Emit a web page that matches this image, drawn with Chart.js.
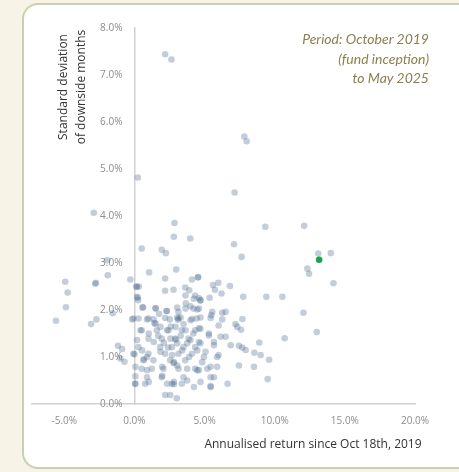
<!DOCTYPE html>
<html lang="en">

<head>
    <meta charset="UTF-8">
    <title>Downside deviation vs. annualised return</title>
    <script src="https://cdn.jsdelivr.net/npm/chart.js"></script>
    <style>
        body {
            margin: 0;
            width: 459px;
            height: 472px;
            overflow: hidden;
            position: relative;
            background: #f7f3e6;
        }

        .card {
            position: absolute;
            left: 22px;
            top: 3px;
            width: 480px;
            height: 462px;
            background: #ffffff;
            border: 2.5px solid #c8d1ad;
            border-radius: 16px;
        }

        #scatterChart {
            position: absolute;
            left: 0;
            top: 0;
        }

        .period {
            position: absolute;
            right: 30px;
            top: 29px;
            text-align: right;
            font-family: Lato, sans-serif;
            font-style: italic;
            font-size: 14px;
            line-height: 19.5px;
            color: #8b7f4f;
        }
    </style>
</head>

<body>
    <div class="card"></div>
    <canvas id="scatterChart" width="459" height="472"></canvas>
    <div class="period">Period: October 2019<br>(fund inception)<br>to May 2025</div>

    <script>
        // [annualised return %, std dev of downside months %]
        const fundPoint = [[13.17, 3.07]];

        const peerPoints = [
            // upper / sparse
            [2.19, 7.44], [2.64, 7.33], [7.83, 5.69], [8.0, 5.59], [0.24, 4.82], [7.14, 4.50],
            [2.86, 3.85], [9.33, 3.77], [2.81, 3.56], [3.98, 3.52], [12.1, 3.79], [-2.9, 4.07],
            // negative returns
            [-1.95, 3.06], [-1.9, 2.74], [-4.93, 2.60], [-2.79, 2.56], [-2.75, 2.58], [-4.76, 2.37],
            [-0.29, 2.65], [-4.88, 2.06], [-1.55, 1.93], [-2.71, 1.80], [-3.09, 1.70], [-5.59, 1.77],
            [-0.16, 1.80], [-1.17, 1.24], [-0.88, 1.17], [-1.0, 0.97], [-0.71, 0.90], [0.0, 1.06],
            [0.07, 0.59], [0.07, 0.43],
            // 0-5% upper part
            [0.52, 3.31], [1.95, 3.28], [2.24, 3.21], [1.05, 2.80], [2.98, 2.86], [2.19, 2.67],
            [4.1, 2.65], [4.52, 2.69], [0.17, 2.49], [2.19, 2.41], [2.79, 2.43], [3.62, 2.48],
            [3.91, 2.42], [0.24, 2.26], [4.33, 2.31], [3.66, 2.14], [0.57, 2.05], [1.52, 2.04],
            [2.31, 1.98], [1.76, 1.92], [3.14, 1.96], [4.21, 2.03], [-0.07, 1.82], [1.0, 1.82],
            [3.14, 1.82], [4.43, 1.82],
            // 0-5% dense part
            [0.29, 1.82], [1.36, 1.80], [2.19, 1.83], [3.1, 1.79], [4.1, 1.81],
            [0.52, 1.57], [1.6, 1.57], [2.43, 1.57], [3.38, 1.57], [4.33, 1.57],
            [1.0, 1.39], [1.95, 1.39], [2.91, 1.39], [2.95, 1.37], [3.86, 1.39],
            [0.29, 1.21], [1.83, 1.21], [2.67, 1.21], [3.5, 1.21], [4.33, 1.21],
            [-0.07, 1.07], [1.0, 1.07], [2.19, 1.07], [3.14, 1.07], [4.1, 1.07],
            [0.64, 0.93], [0.68, 0.95], [1.36, 0.93], [2.55, 0.93], [3.62, 0.93],
            [0.52, 0.75], [1.24, 0.75], [2.07, 0.75], [3.14, 0.75], [4.33, 0.75],
            [1.95, 0.57], [1.98, 0.60], [3.5, 0.57],
            [0.05, 0.43], [0.76, 0.43], [2.67, 0.43], [3.38, 0.43],
            [2.19, 0.19], [2.55, 0.19], [3.02, 0.12],
            [0.14, 2.5], [0.31, 2.5], [0.19, 2.28], [0.26, 2.21], [3.64, 2.31], [4.24, 2.24], [4.71, 2.21],
            [0.62, 2.06], [1.5, 2.03], [2.29, 1.98], [3.05, 2.05], [3.64, 2.03], [4.0, 2.08], [4.48, 2.01],
            [0.9, 1.8], [1.43, 1.72], [1.86, 1.64], [2.52, 1.8], [3.29, 1.84], [4.0, 1.78], [4.71, 1.84],
            [5.48, 1.89], [6.26, 1.94],
            [0.43, 1.57], [1.02, 1.5], [2.33, 1.57], [2.93, 1.64], [3.64, 1.57], [4.71, 1.6], [5.31, 1.5],
            [6.14, 1.43],
            [0.19, 1.36], [1.38, 1.32], [2.57, 1.39], [3.05, 1.29], [4.0, 1.36], [4.71, 1.29], [5.67, 1.32],
            [0.55, 1.14], [0.9, 1.0], [1.86, 1.11], [2.69, 1.04], [2.81, 0.89], [3.4, 1.14], [4.48, 1.14],
            [4.95, 1.0], [5.9, 1.0],
            [0.07, 0.79], [0.9, 0.72], [1.98, 0.79], [3.05, 0.82], [3.76, 0.75], [4.48, 0.72], [5.19, 0.75],
            [5.9, 0.79],
            [0.9, 0.57], [2.81, 0.47], [3.76, 0.5], [4.71, 0.47], [5.67, 0.57],
            [1.02, 0.47], [2.33, 0.43], [2.81, 0.42], [4.24, 0.36], [5.43, 0.38],
            // darker spots in the core
            [1.5, 1.71], [3.05, 1.84], [2.8, 0.87], [3.76, 1.29], [3.3, 1.45], [2.4, 1.2],
            [3.9, 1.0], [1.7, 1.45], [2.1, 1.3], [3.5, 1.7], [2.6, 1.65], [4.2, 1.5],
            // 5-10%
            [7.1, 3.4], [7.64, 3.13], [4.55, 2.7], [5.98, 2.58], [5.6, 2.53], [5.74, 2.43], [6.81, 2.51],
            [6.21, 2.35], [7.76, 2.28], [9.4, 2.28], [5.36, 2.26], [4.6, 2.25], [4.7, 2.2], [4.6, 2.03],
            [5.55, 1.96], [6.5, 1.96], [5.43, 1.83], [6.26, 1.8], [7.7, 1.81],
            [4.6, 1.61], [6.0, 1.67], [7.2, 1.70], [7.33, 1.64], [7.6, 1.58], [5.31, 1.46], [6.5, 1.43],
            [4.6, 1.32], [5.67, 1.25], [6.86, 1.25], [7.45, 1.24], [7.69, 1.2], [7.93, 1.15], [8.9, 1.31],
            [8.55, 1.09], [5.07, 1.11], [6.0, 1.04], [4.83, 0.89], [5.43, 0.79], [7.45, 0.82], [8.52, 0.79],
            [4.6, 0.72], [5.43, 0.57], [5.43, 0.36], [6.64, 0.43], [9.5, 0.53], [9.0, 1.04], [9.6, 0.94],
            // 10%+
            [13.1, 3.2], [14.0, 3.21], [12.33, 2.88], [12.45, 2.77], [14.19, 2.57], [10.55, 2.28],
            [12.05, 1.94], [13.0, 1.53], [10.71, 1.40]
        ];

        const xTicks = [-5, 0, 5, 10, 15, 20];
        const yTicks = [0, 1, 2, 3, 4, 5, 6, 7, 8];
        const xTitle = 'Annualised return since Oct 18th, 2019';
        const yTitle = ['Standard deviation', 'of downside months'];

        const tickFont = { family: 'Open Sans', size: 10 };
        const tickColor = '#8c8c8c';
        const axisColor = '#d2d2d2';

        // axes take no room in the layout; afterwards put the y axis on x = 0
        // and give both boxes some size again so their labels are not clipped
        const axesPlacement = {
            id: 'axesPlacement',
            afterLayout(chart) {
                const xs = chart.scales.x;
                const ys = chart.scales.y;
                const x0 = xs.getPixelForValue(0);
                ys.left = 0;
                ys.right = x0;
                xs.bottom = xs.top + 40;
            }
        };

        const axisTitles = {
            id: 'axisTitles',
            afterDraw(chart) {
                const c = chart.ctx;
                c.save();
                c.fillStyle = '#333333';
                c.textAlign = 'center';
                c.textBaseline = 'middle';
                c.font = '12px "Open Sans"';
                c.fillText(xTitle, 313, 445);
                c.translate(73, 87);
                c.rotate(-Math.PI / 2);
                c.fillText(yTitle[0], 0, -9);
                c.fillText(yTitle[1], 0, 9);
                c.restore();
            }
        };

        const toXY = p => ({ x: p[0], y: p[1] });

        const ctx = document.getElementById('scatterChart').getContext('2d');
        new Chart(ctx, {
            type: 'scatter',
            data: {
                datasets: [{
                    label: 'Fund',
                    data: fundPoint.map(toXY),
                    backgroundColor: '#17a64e',
                    borderWidth: 0,
                    pointRadius: 3.3
                }, {
                    label: 'Peers',
                    data: peerPoints.map(toXY),
                    backgroundColor: 'rgba(70, 104, 140, 0.32)',
                    borderWidth: 0,
                    pointRadius: 3.3
                }]
            },
            options: {
                responsive: false,
                animation: false,
                devicePixelRatio: 1,
                layout: {
                    padding: { left: 32, right: 44, top: 28, bottom: 68 }
                },
                plugins: {
                    legend: { display: false },
                    tooltip: { enabled: false }
                },
                scales: {
                    x: {
                        type: 'linear',
                        position: 'bottom',
                        min: -7.3,
                        max: 20,
                        afterFit: s => { s.height = 0; },
                        afterBuildTicks: s => { s.ticks = xTicks.map(v => ({ value: v })); },
                        grid: { display: false, drawTicks: false },
                        border: { display: true, color: axisColor, width: 1.5 },
                        ticks: {
                            padding: 11,
                            color: tickColor,
                            font: tickFont,
                            maxRotation: 0,
                            autoSkip: false,
                            callback: v => v.toFixed(1) + '%'
                        }
                    },
                    y: {
                        type: 'linear',
                        position: 'left',
                        min: 0,
                        max: 8,
                        afterFit: s => { s.width = 0; },
                        afterBuildTicks: s => { s.ticks = yTicks.map(v => ({ value: v })); },
                        grid: { display: false, drawTicks: false },
                        border: { display: true, color: axisColor, width: 1.5 },
                        ticks: {
                            padding: 12,
                            color: tickColor,
                            font: tickFont,
                            autoSkip: false,
                            callback: v => v.toFixed(1) + '%'
                        }
                    }
                }
            },
            plugins: [axesPlacement, axisTitles]
        });
    </script>
</body>

</html>
